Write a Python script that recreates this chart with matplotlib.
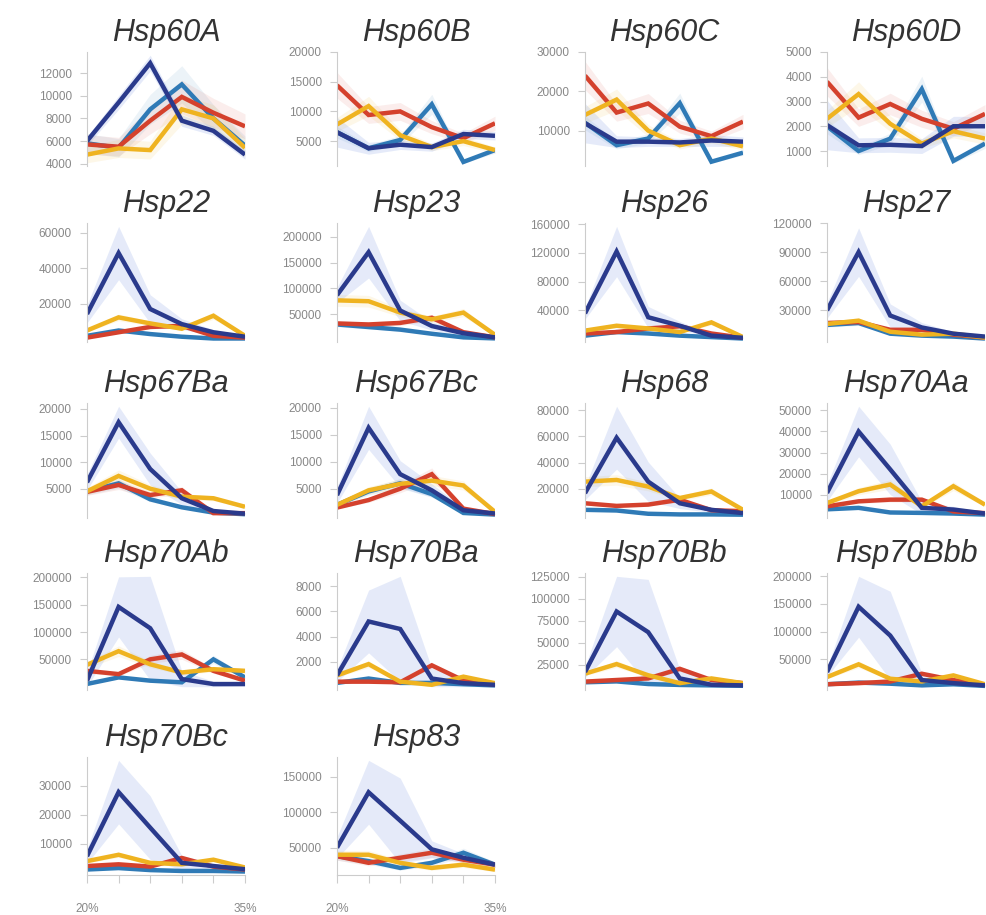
import numpy as np
import matplotlib
matplotlib.use("Agg")
from matplotlib import pyplot as plt

# genes shown, one panel each (row-major order)
genes = ['Hsp60A', 'Hsp60B', 'Hsp60C', 'Hsp60D',
         'Hsp22', 'Hsp23', 'Hsp26', 'Hsp27',
         'Hsp67Ba', 'Hsp67Bc', 'Hsp68', 'Hsp70Aa',
         'Hsp70Ab', 'Hsp70Ba', 'Hsp70Bb', 'Hsp70Bbb',
         'Hsp70Bc', 'Hsp83']

x_labels = ['20%', '', '', '', '', '35%']

# mean expression per condition (6 points)
navy = [
    [6000, 9400, 12880, 7800, 6900, 4800],
    [6500, 3800, 4400, 4000, 6200, 5900],
    [11900, 7200, 7200, 7000, 7500, 7200],
    [2050, 1230, 1250, 1200, 2000, 2000],
    [14300, 48600, 17100, 8600, 4000, 1500],
    [86700, 170000, 57000, 27000, 13000, 5000],
    [36000, 122000, 30600, 18800, 5000, 2000],
    [30000, 90000, 24700, 12400, 6000, 3000],
    [6200, 17500, 8700, 3200, 800, 300],
    [3800, 16300, 7700, 4700, 1000, 400],
    [16700, 59000, 25500, 9000, 4000, 1500],
    [10800, 40000, 22000, 3700, 2900, 1000],
    [10800, 146000, 107000, 13900, 4800, 4800],
    [900, 5200, 4600, 650, 280, 150],
    [16700, 85500, 62000, 9400, 2200, 1500],
    [27000, 145000, 93000, 12600, 7000, 3000],
    [5600, 27800, 15500, 3300, 2200, 1100],
    [50000, 128000, 88000, 47600, 35700, 26000],
]
blue = [
    [5800, 5400, 8800, 11000, 8000, 5600],
    [6500, 3800, 5200, 11200, 1500, 3500],
    [12000, 6300, 8000, 17000, 2100, 4400],
    [2000, 1000, 1500, 3500, 600, 1300],
    [2000, 5000, 3000, 1500, 500, 500],
    [30000, 25000, 20000, 12000, 5000, 3000],
    [5000, 10000, 8000, 5000, 3000, 1000],
    [15000, 17000, 6000, 4000, 3000, 1000],
    [4500, 6000, 3000, 1500, 500, 200],
    [2000, 4500, 6000, 4000, 500, 200],
    [4000, 3500, 1000, 500, 500, 300],
    [3000, 3700, 1500, 1300, 1000, 500],
    [5000, 17000, 11000, 8000, 50000, 17000],
    [300, 650, 300, 300, 200, 100],
    [5000, 6000, 3000, 2000, 1500, 1000],
    [5000, 8000, 6000, 3000, 5000, 2000],
    [1000, 1500, 800, 500, 500, 300],
    [38000, 31000, 21400, 28600, 42800, 26000],
]
red = [
    [5700, 5500, 7800, 9900, 8500, 7300],
    [14400, 9400, 10000, 7350, 5500, 8000],
    [24000, 14600, 16900, 11000, 8600, 12300],
    [3800, 2350, 2900, 2300, 1900, 2500],
    [1000, 4000, 7000, 7600, 2000, 1000],
    [32000, 30000, 33000, 43000, 15000, 5000],
    [8000, 10000, 15000, 18000, 8000, 2000],
    [17000, 18000, 10000, 10000, 5000, 2000],
    [4400, 5700, 3800, 4700, 400, 400],
    [1500, 2900, 5000, 7700, 1300, 300],
    [9000, 7000, 8000, 11700, 3700, 3000],
    [4400, 6800, 7600, 7600, 2000, 1200],
    [29000, 23000, 50000, 59000, 29000, 11000],
    [400, 400, 350, 1700, 500, 150],
    [5800, 7600, 9400, 20300, 7600, 4000],
    [5000, 7000, 10000, 24000, 12600, 4000],
    [2200, 2800, 2000, 5000, 2000, 1000],
    [38000, 28600, 35700, 42800, 33000, 26000],
]
gold = [
    [4800, 5350, 5200, 8800, 8000, 5400],
    [7800, 10900, 6000, 4000, 5000, 3500],
    [14000, 17900, 10000, 6300, 8000, 6000],
    [2300, 3300, 2100, 1300, 1800, 1500],
    [5000, 12400, 9000, 6000, 13300, 2000],
    [76700, 75000, 53000, 40000, 53000, 10000],
    [12000, 18800, 15000, 10000, 23500, 3000],
    [16000, 19400, 8000, 5000, 6000, 2000],
    [4500, 7400, 5000, 3500, 3200, 1600],
    [2000, 4700, 5900, 6500, 5600, 700],
    [25500, 26800, 21700, 13000, 18000, 4000],
    [6000, 11600, 14800, 4400, 14000, 5200],
    [40000, 65000, 41000, 26000, 32000, 29000],
    [900, 1800, 400, 150, 800, 280],
    [14800, 25700, 13000, 4000, 9400, 4000],
    [18000, 41000, 15000, 10000, 21000, 5000],
    [3900, 6100, 3300, 2800, 4400, 1700],
    [40000, 40000, 28600, 21400, 26000, 19000],
]

# half-width of the shaded band around the navy line
navy_err = [
    [400, 600, 700, 500, 400, 400],
    [2500, 1000, 800, 700, 800, 700],
    [5000, 1500, 1200, 1000, 1500, 1200],
    [1000, 300, 300, 300, 400, 400],
    [5000, 15000, 8000, 3000, 1500, 800],
    [15000, 50000, 20000, 8000, 4000, 2000],
    [8000, 35000, 15000, 6000, 2000, 1000],
    [8000, 25000, 12000, 5000, 2000, 1000],
    [1500, 3000, 3000, 1200, 400, 200],
    [1500, 4000, 2500, 1200, 500, 200],
    [5000, 24000, 15000, 4000, 2000, 800],
    [4000, 12000, 12000, 3000, 1500, 500],
    [15000, 55000, 95000, 15000, 5000, 3000],
    [500, 2500, 4200, 800, 300, 150],
    [6000, 40000, 60000, 10000, 3000, 1500],
    [8000, 55000, 80000, 12000, 5000, 2000],
    [2500, 11000, 11000, 2500, 1000, 500],
    [15000, 45000, 60000, 12000, 6000, 4000],
]
other_frac = 0.15  # relative band width of the three other series

yticks = [
    [4000, 6000, 8000, 10000, 12000],
    [5000, 10000, 15000, 20000],
    [10000, 20000, 30000],
    [1000, 2000, 3000, 4000, 5000],
    [20000, 40000, 60000],
    [50000, 100000, 150000, 200000],
    [40000, 80000, 120000, 160000],
    [30000, 60000, 90000, 120000],
    [5000, 10000, 15000, 20000],
    [5000, 10000, 15000, 20000],
    [20000, 40000, 60000, 80000],
    [10000, 20000, 30000, 40000, 50000],
    [50000, 100000, 150000, 200000],
    [2000, 4000, 6000, 8000],
    [25000, 50000, 75000, 100000, 125000],
    [50000, 100000, 150000, 200000],
    [10000, 20000, 30000],
    [50000, 100000, 150000],
]

c_navy = '#2a3a8c'
c_blue = '#2f7ab6'
c_red = '#d4412d'
c_gold = '#efb320'
band_navy = '#6f8fe0'

plt.rcParams['font.family'] = ['Liberation Sans', 'DejaVu Sans']

W, H = 987, 915
fig = plt.figure(figsize=(W / 100, H / 100), dpi=100)

col_left = [87, 337, 585, 827]
row_top = [52, 223, 403, 573, 757]
row_bot = [166, 342, 518, 690, 875]
ax_w = 158

x = np.arange(6)
for i, gene in enumerate(genes):
    r, c = divmod(i, 4)
    ax = fig.add_axes([col_left[c] / W, 1 - row_bot[r] / H,
                       ax_w / W, (row_bot[r] - row_top[r]) / H])
    series = [(blue[i], c_blue, c_blue, None, 0.09),
              (red[i], c_red, c_red, None, 0.09),
              (gold[i], c_gold, c_gold, None, 0.1),
              (navy[i], c_navy, band_navy, navy_err[i], 0.18)]
    for vals, col, bcol, err, alpha in series:
        v = np.array(vals, float)
        e = np.array(err, float) if err is not None else v * other_frac
        ax.fill_between(x, np.maximum(v - e, 0), v + e, color=bcol,
                        alpha=alpha, lw=0)
        ax.plot(x, v, color=col, lw=3.2, solid_joinstyle='miter',
                solid_capstyle='butt')

    ax.set_xlim(0, 5)
    ax.margins(y=0.03)
    ax.set_yticks(yticks[i])
    ax.ticklabel_format(axis='y', style='plain', useOffset=False)
    for s in ['top', 'right']:
        ax.spines[s].set_visible(False)
    ax.spines['left'].set_color('#cccccc')
    ax.spines['left'].set_linewidth(0.8)
    ax.tick_params(axis='y', colors='#cccccc', labelcolor='#888888',
                   labelsize=8.5, length=5, width=0.8, pad=6)
    if i >= 16:
        ax.spines['bottom'].set_color('#cccccc')
        ax.spines['bottom'].set_linewidth(0.8)
        ax.set_xticks(x)
        ax.set_xticklabels(x_labels)
        ax.tick_params(axis='x', colors='#cccccc', labelcolor='#888888',
                       labelsize=8.5, length=6, width=0.8, pad=14)
    else:
        ax.spines['bottom'].set_visible(False)
        ax.set_xticks([])
    ax.set_title(gene, fontsize=22, style='italic', color='#333333', pad=8)

fig.savefig('out.png', dpi=100)
